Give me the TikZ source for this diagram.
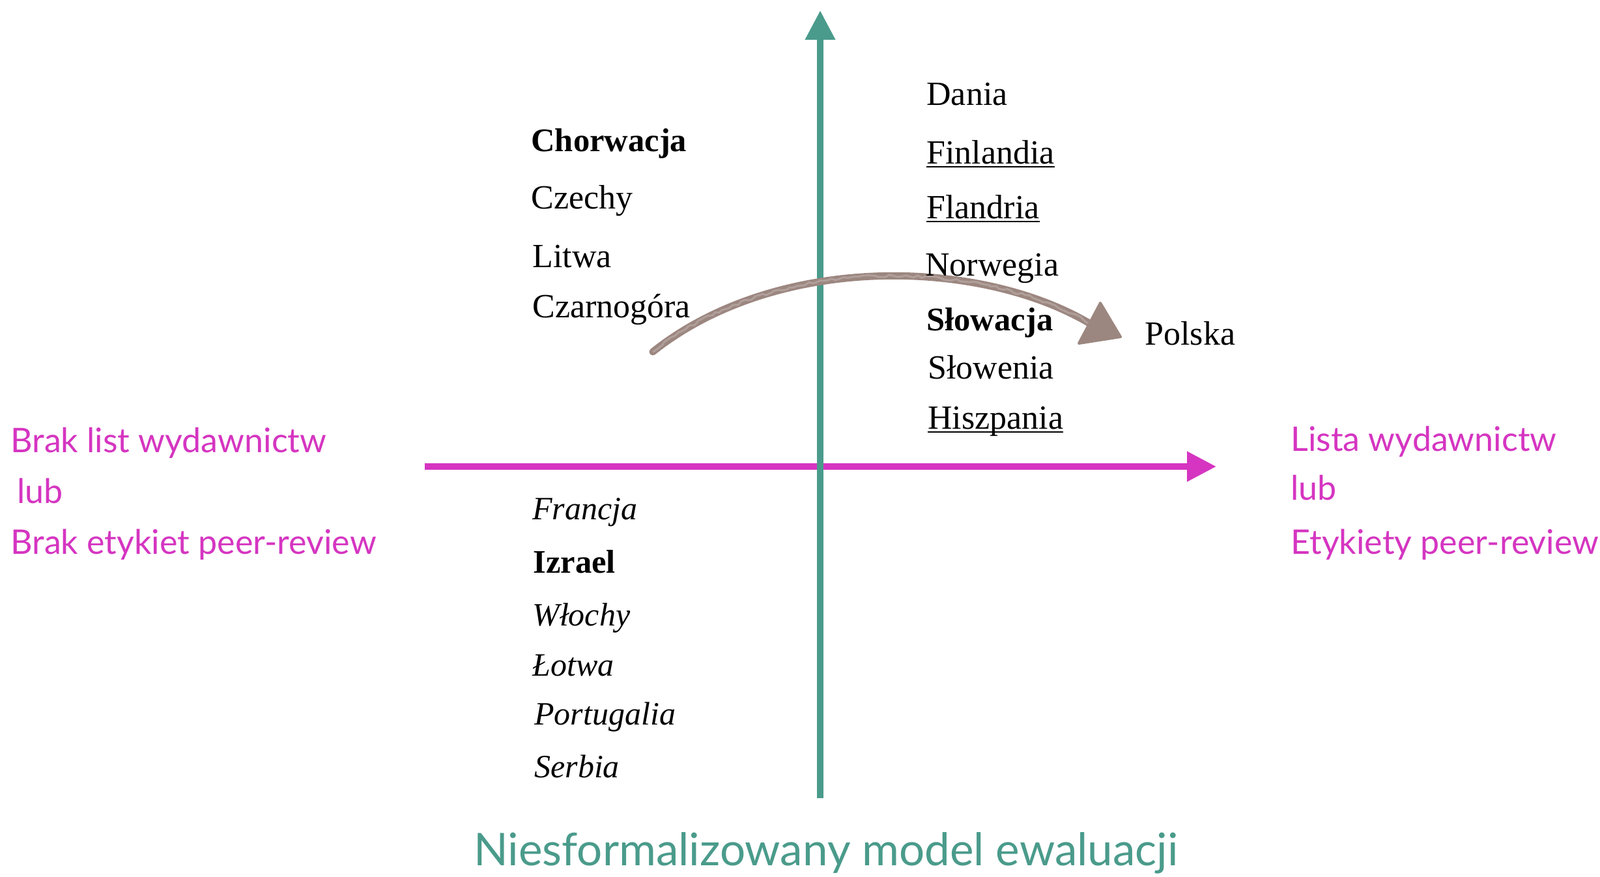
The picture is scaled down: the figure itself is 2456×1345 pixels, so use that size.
\documentclass[tikz,border=0pt]{standalone}
\usepackage{fontspec}
\setmainfont{Liberation Serif}
\newfontfamily\labfont{Lato}
\usetikzlibrary{arrows.meta,decorations.pathmorphing}
\definecolor{axteal}{HTML}{4A9B8B}
\definecolor{axmag}{HTML}{D535C1}
\definecolor{arrbrown}{HTML}{9C8780}
\newsavebox\ulbox
\newcommand{\undl}[1]{\sbox\ulbox{#1}\rlap{\rule[-3pt]{\wd\ulbox}{1pt}}\usebox\ulbox}
\begin{document}
\begin{tikzpicture}[x=0.5pt,y=-0.5pt,
  ctry/.style={anchor=base west,inner sep=0pt,font=\fontsize{26}{30}\selectfont},
  ctrybf/.style={ctry,font=\fontsize{25.3}{30}\selectfont\bfseries},
  ctryit/.style={ctry,font=\fontsize{25}{30}\selectfont\itshape},
  lab/.style={anchor=base west,inner sep=0pt,text=axmag,font=\labfont\fontsize{26}{30}\selectfont},
  axisline/.style={line width=5pt,-{Triangle[length=22.5pt,width=22pt]}}]
\useasboundingbox[fill=white] (0,0) rectangle (2456,1345);
% axes
\coordinate (vB) at (1259,1225);
\coordinate (vT) at (1259,16);
\coordinate (hL) at (652,716);
\coordinate (hR) at (1867,716);
\draw[axisline,axmag] (hL) -- (hR);
\draw[axisline,axteal] (vB) -- (vT);
% curved arrow
\coordinate (cS) at (1002,540);
\coordinate (cE) at (1672,496);
\coordinate (tA) at (1689,465);
\coordinate (tB) at (1656,527);
\coordinate (tC) at (1720,517);
\draw[arrbrown,line width=5.5pt,line cap=round] (cS) .. controls (1190,390) and (1500,395) .. (cE);
\draw[arrbrown!80,line width=1.5pt,decorate,decoration={random steps,segment length=3pt,amplitude=1pt}] (cS) .. controls (1190,390) and (1500,395) .. (cE);
\filldraw[arrbrown,line width=2pt,line join=round] (tA) -- (tB) -- (tC) -- cycle;
% upper left
\node[ctrybf] (chor) at (815,232) {Chorwacja};
\node[ctry] (czech) at (815,320) {Czechy};
\node[ctry] (litwa) at (817,410) {Litwa};
\node[ctry] (czarn) at (817,487) {Czarnogóra};
% upper right
\node[ctry] (dania) at (1422,161) {Dania};
\node[ctry] (finl) at (1422,251) {\undl{Finlandia}};
\node[ctry] (fland) at (1422,335) {\undl{Flandria}};
\node[ctry] (norw) at (1420,423) {Norwegia};
\node[ctrybf] (slowa) at (1422,507) {Słowacja};
\node[ctry] (slowe) at (1424,581) {Słowenia};
\node[ctry] (hiszp) at (1424,658) {\undl{Hiszpania}};
\node[ctry] (polska) at (1757,529) {Polska};
% lower left
\node[ctryit] (franc) at (817,797) {Francja};
\node[ctrybf] (izrael) at (818,879) {Izrael};
\node[ctryit] (wlochy) at (817,960) {Włochy};
\node[ctryit] (lotwa) at (817,1037) {Łotwa};
\node[ctryit] (portu) at (820,1112) {Portugalia};
\node[ctryit] (serbia) at (820,1193) {Serbia};
% side labels
\node[lab] (l1) at (16,694) {Brak list wydawnictw};
\node[lab] (l2) at (26,772) {lub};
\node[lab] (l3) at (16,850) {Brak etykiet peer-review};
\node[lab] (r1) at (1981,692) {Lista wydawnictw};
\node[lab] (r2) at (1981,767) {lub};
\node[lab] (r3) at (1981,850) {Etykiety peer-review};
% title
\node[anchor=base,inner sep=0pt,text=axteal,font=\labfont\fontsize{34.6}{40}\selectfont] (title) at (1268,1328) {Niesformalizowany model ewaluacji};
\end{tikzpicture}
\end{document}
